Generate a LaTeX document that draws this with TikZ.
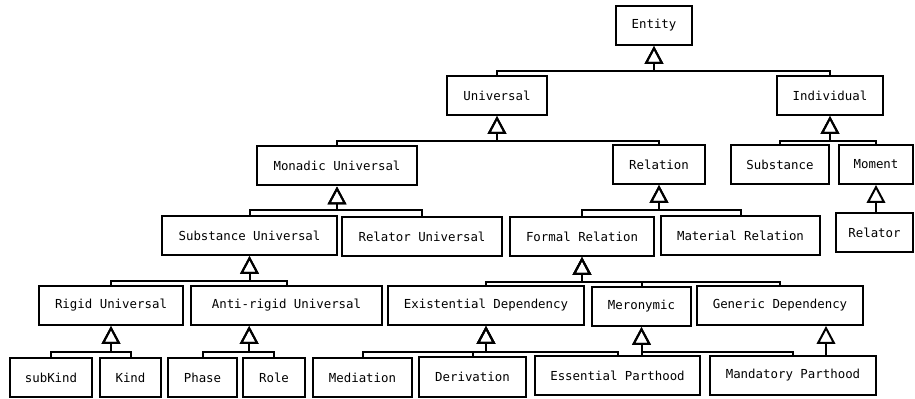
\documentclass[tikz,border=0pt]{standalone}
\usepackage{fontspec}
\setmonofont{DejaVu Sans Mono}
\usepackage{tikz}
\usetikzlibrary{arrows.meta, positioning}

\begin{document}
\begin{tikzpicture}[x=0.75pt, y=-0.75pt,
    box/.style={draw, line width=1.5pt, minimum height=29.25pt, inner sep=2pt,
        font=\ttfamily\fontsize{9.3}{11}\selectfont},
    gen/.style={draw, line width=1.5pt, -{Triangle[open, length=13.5pt, width=14pt]}}]
    \useasboundingbox (0,0) rectangle (915,399);
    \node[box, minimum width=57pt] (Ent) at (654,25.5) {Entity};
    \node[box, minimum width=75pt] (Univ) at (497,95.5) {Universal};
    \node[box, minimum width=79.5pt] (Indiv) at (830,95.5) {Individual};
    \node[box, minimum width=120pt] (MonU) at (337,166) {Monadic Universal};
    \node[box, minimum width=69pt] (Rel) at (659,164.5) {Relation};
    \node[box, minimum width=73.5pt] (Subst) at (780,164.5) {Substance};
    \node[box, minimum width=55.5pt] (Mom) at (876,164.5) {Moment};
    \node[box, minimum width=131.25pt] (SubU) at (249.5,235.5) {Substance Universal};
    \node[box, minimum width=120pt] (RelU) at (422,236.5) {Relator Universal};
    \node[box, minimum width=108pt] (FormR) at (582,236.5) {Formal Relation};
    \node[box, minimum width=119.25pt] (MatR) at (740.5,236) {Material Relation};
    \node[box, minimum width=57.75pt] (Relr) at (874.5,232.5) {Relator};
    \node[box, minimum width=108pt] (RigU) at (111,305.5) {Rigid Universal};
    \node[box, minimum width=143.25pt] (ARigU) at (286.5,305.5) {Anti-rigid Universal};
    \node[box, minimum width=147pt] (ExD) at (486,305.5) {Existential Dependency};
    \node[box, minimum width=74.25pt] (Mero) at (641.5,306.5) {Meronymic};
    \node[box, minimum width=124.5pt] (GenD) at (780,305.5) {Generic Dependency};
    \node[box, minimum width=61.5pt] (SubK) at (51,377.5) {subKind};
    \node[box, minimum width=45.75pt] (Kind) at (130.5,377.5) {Kind};
    \node[box, minimum width=51.75pt] (Phase) at (202.5,377.5) {Phase};
    \node[box, minimum width=46.5pt] (Role) at (274,377.5) {Role};
    \node[box, minimum width=74.25pt] (Med) at (362.5,377.5) {Mediation};
    \node[box, minimum width=80.25pt] (Der) at (472.5,377) {Derivation};
    \node[box, minimum width=123.75pt] (EssP) at (617.5,375.5) {Essential Parthood};
    \node[box, minimum width=124.5pt] (ManP) at (793,375.5) {Mandatory Parthood};
    \coordinate (ARigT) at ([xshift=-28pt]ARigU.south);
    \coordinate (GenT) at ([xshift=34.5pt]GenD.south);
    \draw[gen] (Univ.north) |- ([yshift=-19pt]Ent.south) -- (Ent.south);
    \draw[gen] (Indiv.north) |- ([yshift=-19pt]Ent.south) -- (Ent.south);
    \draw[gen] (MonU.north) |- ([yshift=-19pt]Univ.south) -- (Univ.south);
    \draw[gen] (Rel.north) |- ([yshift=-19pt]Univ.south) -- (Univ.south);
    \draw[gen] (Subst.north) |- ([yshift=-18.5pt]Indiv.south) -- (Indiv.south);
    \draw[gen] (Mom.north) |- ([yshift=-18.5pt]Indiv.south) -- (Indiv.south);
    \draw[gen] (SubU.north) |- ([yshift=-18pt]MonU.south) -- (MonU.south);
    \draw[gen] (RelU.north) |- ([yshift=-18pt]MonU.south) -- (MonU.south);
    \draw[gen] (FormR.north) |- ([yshift=-19pt]Rel.south) -- (Rel.south);
    \draw[gen] (MatR.north) |- ([yshift=-19pt]Rel.south) -- (Rel.south);
    \draw[gen] (Relr.north -| Mom.south) -- (Mom.south);
    \draw[gen] (RigU.north) |- ([yshift=-19pt]SubU.south) -- (SubU.south);
    \draw[gen] (ARigU.north) |- ([yshift=-19pt]SubU.south) -- (SubU.south);
    \draw[gen] (ExD.north) |- ([yshift=-19pt]FormR.south) -- (FormR.south);
    \draw[gen] (Mero.north) |- ([yshift=-19pt]FormR.south) -- (FormR.south);
    \draw[gen] (GenD.north) |- ([yshift=-19pt]FormR.south) -- (FormR.south);
    \draw[gen] (SubK.north) |- ([yshift=-19.5pt]RigU.south) -- (RigU.south);
    \draw[gen] (Kind.north) |- ([yshift=-19.5pt]RigU.south) -- (RigU.south);
    \draw[gen] (Phase.north) |- ([yshift=-19.5pt]ARigT) -- (ARigT);
    \draw[gen] (Role.north) |- ([yshift=-19.5pt]ARigT) -- (ARigT);
    \draw[gen] (Med.north) |- ([yshift=-19.5pt]ExD.south) -- (ExD.south);
    \draw[gen] (Der.north) |- ([yshift=-19.5pt]ExD.south) -- (ExD.south);
    \draw[gen] (EssP.north) |- ([yshift=-19.5pt]ExD.south) -- (ExD.south);
    \draw[gen] (EssP.north -| Mero.south) -- (Mero.south);
    \draw[gen] (ManP.north) |- ([yshift=-18.75pt]Mero.south) -- (Mero.south);
    \draw[gen] (ManP.north -| GenT) -- (GenT);
\end{tikzpicture}
\end{document}
